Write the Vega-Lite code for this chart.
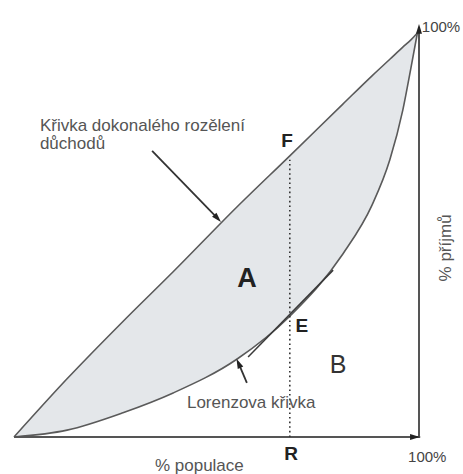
{
  "$schema": "https://vega.github.io/schema/vega-lite/v6.json",
  "width": 405,
  "height": 404,
  "autosize": {"type": "none"},
  "padding": {"left": 14, "top": 33, "right": 44, "bottom": 37},
  "background": "white",
  "config": {"view": {"stroke": null}, "text": {"font": "Liberation Sans"}},
  "datasets": {
    "curve": [
      {"x": 0, "lor": 0, "diag": 0},
      {"x": 13.1, "lor": 1.7, "diag": 14.4},
      {"x": 26.9, "lor": 6.0, "diag": 28.6},
      {"x": 39.3, "lor": 10.9, "diag": 40.9},
      {"x": 55.1, "lor": 19.3, "diag": 57.0},
      {"x": 68.1, "lor": 29.9, "diag": 69.6},
      {"x": 81.2, "lor": 45.3, "diag": 82.4},
      {"x": 88.4, "lor": 57.4, "diag": 89.4},
      {"x": 92.8, "lor": 68.6, "diag": 93.5},
      {"x": 96.0, "lor": 80.9, "diag": 96.5},
      {"x": 98.0, "lor": 91.3, "diag": 98.3},
      {"x": 99.6, "lor": 100, "diag": 100}
    ],
    "segs": [
      {"kind": "axis", "x": 0, "y": 0, "x2": 100.3, "y2": 0},
      {"kind": "axis", "x": 100, "y": 0, "x2": 100, "y2": 101},
      {"kind": "dotted", "x": 68.1, "y": 0, "x2": 68.1, "y2": 68.6},
      {"kind": "tangent", "x": 57.8, "y": 19.8, "x2": 78.8, "y2": 41.3},
      {"kind": "arrow", "x": 34.1, "y": 70.8, "x2": 50.4, "y2": 54.0},
      {"kind": "arrow", "x": 57.5, "y": 13.4, "x2": 55.3, "y2": 18.6}
    ],
    "heads": [
      {"x": 98.6, "y": 0, "angle": 90},
      {"x": 100, "y": 100.6, "angle": 0},
      {"x": 50.0, "y": 54.4, "angle": 137},
      {"x": 55.6, "y": 17.9, "angle": 336}
    ],
    "labels": [
      {"kind": "note", "x": 6.4, "y": 75.7, "label": "Křivka dokonalého rozělení"},
      {"kind": "note", "x": 6.4, "y": 71.2, "label": "důchodů"},
      {"kind": "note", "x": 42.7, "y": 7.2, "label": "Lorenzova křivka"},
      {"kind": "note", "x": 34.8, "y": -8.4, "label": "% populace"},
      {"kind": "pct", "x": 97.3, "y": -6.2, "label": "100%"},
      {"kind": "pct", "x": 100.7, "y": 100.2, "label": "100%"},
      {"kind": "bold", "x": 67.4, "y": 71.8, "label": "F"},
      {"kind": "bold", "x": 71.1, "y": 26.0, "label": "E"},
      {"kind": "bold", "x": 68.4, "y": -5.7, "label": "R"},
      {"kind": "big", "x": 57.5, "y": 37.1, "label": "A"}
    ]
  },
  "layer": [
    {
      "data": {"name": "curve"},
      "mark": {"type": "area", "interpolate": "monotone", "color": "#e4e7ea"},
      "encoding": {
        "x": {"field": "x", "type": "quantitative", "scale": {"domain": [0, 100], "nice": false}, "axis": null},
        "y": {"field": "lor", "type": "quantitative", "scale": {"domain": [0, 100], "nice": false}, "axis": null},
        "y2": {"field": "diag"}
      }
    },
    {
      "data": {"name": "curve"},
      "mark": {"type": "line", "interpolate": "monotone", "color": "#5a5a5a", "strokeWidth": 1.6},
      "encoding": {
        "x": {"field": "x", "type": "quantitative"},
        "y": {"field": "lor", "type": "quantitative"}
      }
    },
    {
      "data": {"name": "curve"},
      "mark": {"type": "line", "interpolate": "monotone", "color": "#5a5a5a", "strokeWidth": 1.6},
      "encoding": {
        "x": {"field": "x", "type": "quantitative"},
        "y": {"field": "diag", "type": "quantitative"}
      }
    },
    {
      "data": {"name": "segs"},
      "transform": [{"filter": "datum.kind == 'axis'"}],
      "mark": {"type": "rule", "color": "#555555", "strokeWidth": 2},
      "encoding": {
        "x": {"field": "x", "type": "quantitative"},
        "y": {"field": "y", "type": "quantitative"},
        "x2": {"field": "x2"},
        "y2": {"field": "y2"}
      }
    },
    {
      "data": {"name": "segs"},
      "transform": [{"filter": "datum.kind == 'dotted'"}],
      "mark": {"type": "rule", "color": "#333333", "strokeWidth": 1.6, "strokeDash": [1.6, 3]},
      "encoding": {
        "x": {"field": "x", "type": "quantitative"},
        "y": {"field": "y", "type": "quantitative"},
        "x2": {"field": "x2"},
        "y2": {"field": "y2"}
      }
    },
    {
      "data": {"name": "segs"},
      "transform": [{"filter": "datum.kind == 'tangent'"}],
      "mark": {"type": "rule", "color": "#3a3a3a", "strokeWidth": 1.5},
      "encoding": {
        "x": {"field": "x", "type": "quantitative"},
        "y": {"field": "y", "type": "quantitative"},
        "x2": {"field": "x2"},
        "y2": {"field": "y2"}
      }
    },
    {
      "data": {"name": "segs"},
      "transform": [{"filter": "datum.kind == 'arrow'"}],
      "mark": {"type": "rule", "color": "#333333", "strokeWidth": 1.8},
      "encoding": {
        "x": {"field": "x", "type": "quantitative"},
        "y": {"field": "y", "type": "quantitative"},
        "x2": {"field": "x2"},
        "y2": {"field": "y2"}
      }
    },
    {
      "data": {"name": "heads"},
      "mark": {"type": "point", "shape": "M0,-1.2L0.55,0.6L-0.55,0.6Z", "filled": true, "color": "#222222", "size": 120, "opacity": 1},
      "encoding": {
        "x": {"field": "x", "type": "quantitative"},
        "y": {"field": "y", "type": "quantitative"},
        "angle": {"field": "angle", "type": "quantitative", "scale": null}
      }
    },
    {
      "data": {"name": "labels"},
      "transform": [{"filter": "datum.kind == 'note'"}],
      "mark": {"type": "text", "align": "left", "baseline": "alphabetic", "fontSize": 17, "color": "#555555"},
      "encoding": {
        "x": {"field": "x", "type": "quantitative"},
        "y": {"field": "y", "type": "quantitative"},
        "text": {"field": "label"}
      }
    },
    {
      "data": {"name": "labels"},
      "transform": [{"filter": "datum.kind == 'pct'"}],
      "mark": {"type": "text", "align": "left", "baseline": "alphabetic", "fontSize": 15, "color": "#444444"},
      "encoding": {
        "x": {"field": "x", "type": "quantitative"},
        "y": {"field": "y", "type": "quantitative"},
        "text": {"field": "label"}
      }
    },
    {
      "data": {"name": "labels"},
      "transform": [{"filter": "datum.kind == 'bold'"}],
      "mark": {"type": "text", "align": "center", "baseline": "alphabetic", "fontSize": 19, "fontWeight": "bold", "color": "#222222"},
      "encoding": {
        "x": {"field": "x", "type": "quantitative"},
        "y": {"field": "y", "type": "quantitative"},
        "text": {"field": "label"}
      }
    },
    {
      "data": {"name": "labels"},
      "transform": [{"filter": "datum.kind == 'big'"}],
      "mark": {"type": "text", "align": "center", "baseline": "alphabetic", "fontSize": 27, "fontWeight": "bold", "color": "#222222"},
      "encoding": {
        "x": {"field": "x", "type": "quantitative"},
        "y": {"field": "y", "type": "quantitative"},
        "text": {"field": "label"}
      }
    },
    {
      "data": {"values": [{"x": 80, "y": 15.8, "label": "B"}]},
      "mark": {"type": "text", "align": "center", "baseline": "alphabetic", "fontSize": 25, "color": "#333333"},
      "encoding": {
        "x": {"field": "x", "type": "quantitative"},
        "y": {"field": "y", "type": "quantitative"},
        "text": {"field": "label"}
      }
    },
    {
      "data": {"values": [{"x": 106.7, "y": 46.8, "label": "% příjmů"}]},
      "mark": {"type": "text", "align": "center", "baseline": "middle", "angle": 270, "fontSize": 17, "color": "#555555"},
      "encoding": {
        "x": {"field": "x", "type": "quantitative"},
        "y": {"field": "y", "type": "quantitative"},
        "text": {"field": "label"}
      }
    }
  ]
}
